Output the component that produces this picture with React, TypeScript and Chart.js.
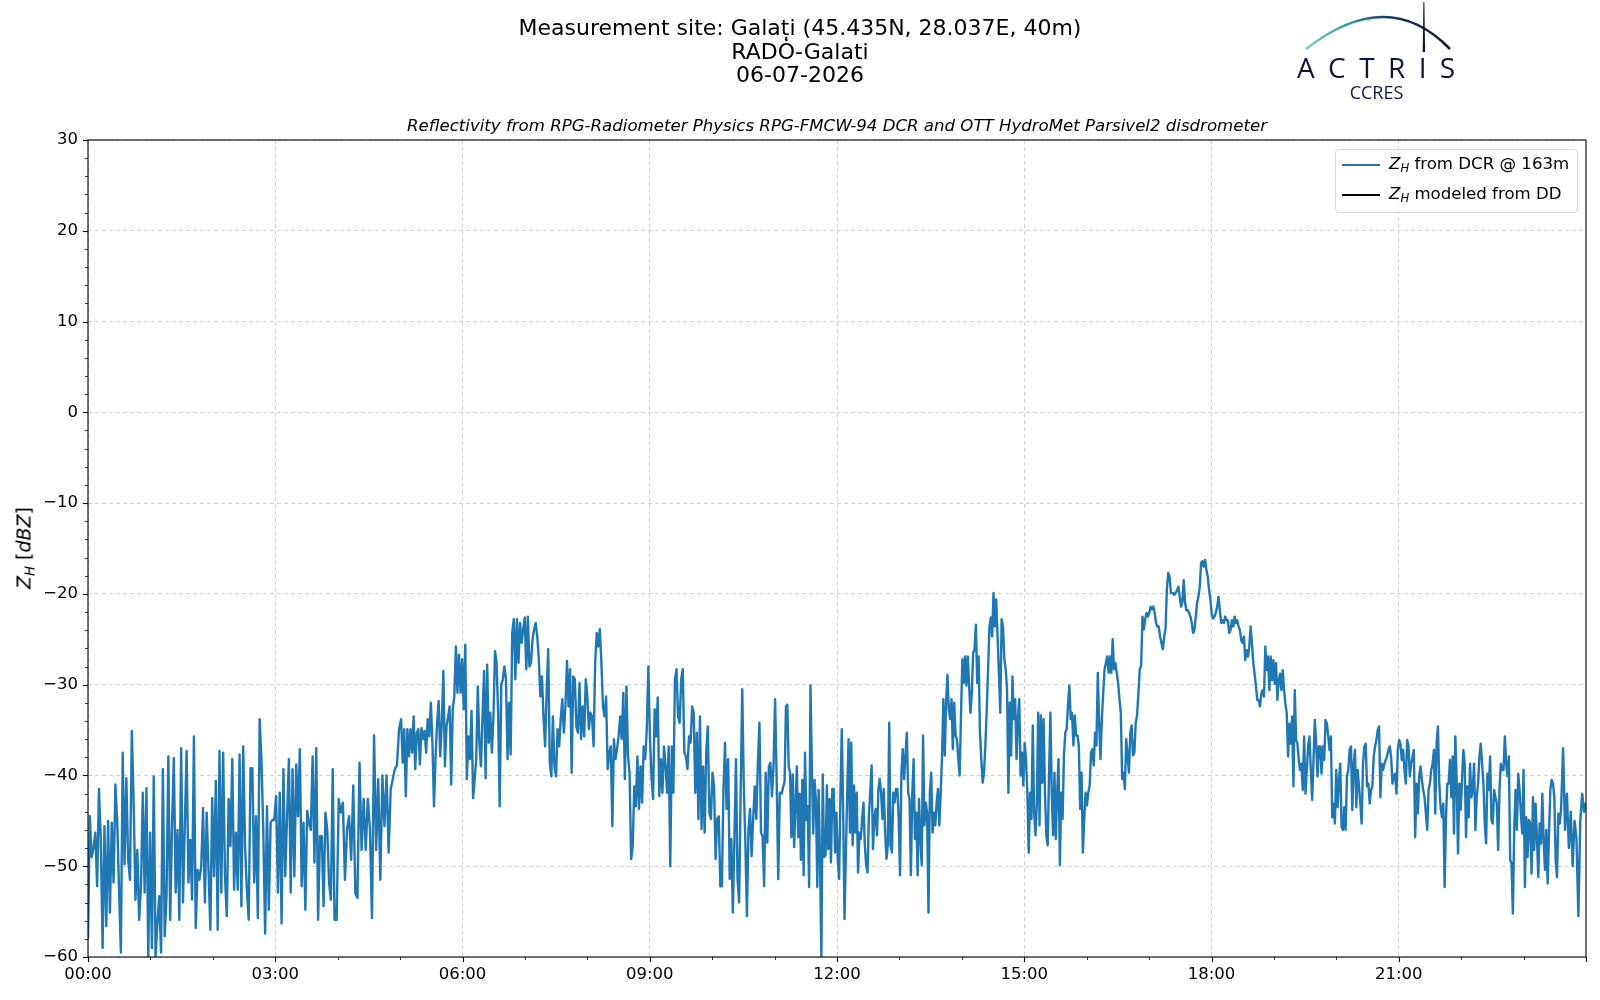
import React, { useEffect, useRef } from 'react';
import { Chart, registerables } from 'chart.js';

Chart.register(...registerables);

// Z_H from DCR @ 163m (dBZ)
const zhNight = [
    -58, -44.5, -49, -48, -46.3, -52.2, -41.5, -47.1, -59, -45.6,
    -56.6, -45, -55.1, -45.2, -51.8, -41, -45.2, -52.6, -59.5, -37.5,
    -49.8, -40.3, -49.3, -51.5, -35.1, -43, -53.7, -48.2, -55.9, -52.2,
    -41.9, -52.9, -41.4, -60, -46.3, -59, -40.1, -60, -56.3, -53.3,
    -59.5, -39.3, -57.7, -53.3, -37.9, -55.9, -45.6, -38.1, -52.9, -46,
    -55.9, -37, -54, -45.6, -37.3, -51.8, -47.1, -53.7, -35.7, -56.8,
    -50.4, -51.5, -50, -43.6, -54, -44.1, -50.4, -57, -42.5, -51.1,
    -40.6, -57, -37.3, -52.9, -37.5, -51.1, -55.5, -42.6, -47.8, -38.2,
    -52.6, -46.3, -52.6, -37.7, -54.4, -36.8, -47.8, -52.6, -55.9, -39.2,
    -39.2, -51.8, -44.5, -55.7, -33.8, -38.4, -46.3, -57.4, -43.4, -54.8,
    -45.2, -44.9, -44.9, -42.3, -52.9, -41.9, -56.3, -39.3, -51.1, -44.5,
    -38.2, -52.9, -39.3, -51.1, -38.8, -44.5, -37.1, -52.2, -45.2, -54.8,
    -43.9, -45.2, -46, -37.9, -49.6, -37, -55.9, -46.7, -46.7, -54.4,
    -44.1, -46, -51.8, -53.7, -39.3, -55.9,
];

const zhBeforeFive = [
    -55.9, -42.6, -44.1, -43.0, -51.5, -45.9, -44.5, -49.3, -41.1, -53.0,
    -53.5, -38.6, -48.2, -42.6, -48.2, -42.6, -45.9, -55.7, -35.6, -48.2,
    -40.4, -51.5, -40.0, -45.6, -40.0, -48.5, -41.5, -40.4, -39.3, -38.9,
    -34.9,
];

const zhMorning = [
    -33.8, -38.6, -34.9, -42.3, -34.9, -37.9, -34.9, -37.5, -33.5, -39.3,
    -35.3, -34.9, -38.8, -34.8, -36.0, -35.1, -37.5, -33.8, -35.7, -32.0,
    -36.4, -43.4, -37.9, -34.2, -31.8, -37.9, -34.2, -28.5, -39.0, -34.6,
    -33.5, -32.4, -41.0, -32.7, -31.3, -25.8, -30.9, -26.7, -30.9, -27.2,
    -32.7, -25.6, -40.4, -35.7, -38.2, -32.9, -42.5, -40.4, -38.2, -30.2,
    -36.4, -39.0, -33.5, -28.5, -40.3, -27.8, -36.4, -33.1, -37.5, -33.5,
    -26.3, -27.6, -33.1, -43.4, -30.0, -29.4, -28.0, -29.4, -38.2, -32.0,
    -37.7, -24.3, -22.8, -29.4, -22.8, -27.6, -23.2, -25.4, -23.9, -22.6,
    -28.3, -22.5, -28.0, -27.6, -25.0, -23.9, -23.2, -24.7, -27.2, -31.3,
    -29.1, -33.5, -36.8, -30.9, -26.1, -38.6, -40.1, -33.5, -39.0, -40.1,
    -34.9, -36.8, -33.8, -31.6, -35.3, -32.4, -27.4, -32.4, -28.3, -39.7,
    -29.1, -29.4, -34.6, -35.3, -29.8, -36.0, -32.4, -35.7, -29.4, -31.3,
    -34.9, -33.1, -33.5, -36.8, -27.6, -24.3, -25.8, -23.9, -27.6, -32.4,
    -33.5, -31.3, -39.3, -37.5, -36.8, -45.6, -36.0, -38.2, -37.1, -35.7,
    -33.5, -36.0, -30.9, -40.4, -30.2, -37.9, -39.7, -49.2, -47.8, -41.2,
    -43.4, -37.9, -43.7, -39.0, -43.0, -36.8, -38.2, -34.9, -28.0, -35.7,
    -40.1, -42.6, -32.7, -35.7, -31.4, -42.3, -38.2, -41.9, -36.8, -39.0,
    -41.9, -36.8, -50.0, -36.8, -41.9, -29.4, -28.3, -33.5, -34.2, -29.4,
    -28.3, -37.5, -37.9, -39.3, -35.7, -36.4, -32.4, -33.1, -41.9, -35.3,
    -44.8, -33.5, -45.9, -39.0, -46.3, -37.5, -34.6, -44.1, -44.8, -39.7,
    -41.2, -49.2, -44.8, -44.5, -52.2, -52.2, -41.5, -36.4, -43.7, -38.2,
    -51.4, -47.0, -55.1, -47.0, -38.2, -51.4, -54.0, -41.9, -30.5, -41.2,
    -47.4, -55.5, -45.9, -43.7, -48.9, -44.8, -41.2, -44.8, -38.6, -34.2,
    -46.3, -46.7, -52.2, -39.7, -47.4, -39.0, -38.6, -42.3, -39.0, -31.6,
    -40.4, -51.4, -41.9,
];

const zhBeforeNoon = [
    -42.0, -41.2, -40.7, -32.4, -32.2, -39.0, -39.7, -46.8, -39.9, -47.9,
    -43.4, -39.0, -46.8, -42.0, -49.3, -40.5, -51.0, -37.5, -44.9, -43.4,
    -52.3, -30.1, -39.0, -46.4, -40.5, -42.7, -52.3, -41.6, -49.3, -60,
    -39.9, -49.0,
];

const zhAfternoon = [
    -48.8, -41.1, -48.1, -42.6, -49.6, -41.5, -41.5, -48.5, -44.1, -49.2,
    -51.4, -41.9, -34.9, -44.1, -55.8, -48.5, -41.9, -36.0, -46.3, -36.4,
    -47.7, -41.1, -46.3, -41.9, -50.7, -46.3, -47.0, -44.8, -43.0, -47.7,
    -49.9, -50.7, -44.4, -41.9, -38.9, -48.1, -44.8, -43.7, -46.6, -41.5,
    -40.4, -41.9, -44.8, -41.5, -46.3, -49.2, -47.7, -34.2, -47.7, -48.5,
    -41.9, -43.0, -41.5, -41.5, -44.8, -51.0, -39.7, -37.1, -40.4, -37.8,
    -35.3, -41.9, -42.6, -51.0, -42.2, -38.2, -47.0, -44.1, -51.0, -42.6,
    -47.0, -49.9, -35.6, -45.5, -43.0, -44.1, -55.1, -41.9, -39.7, -46.3,
    -44.1, -45.5, -43.0, -41.5, -45.5, -41.9, -37.8, -31.6, -37.8, -32.0,
    -28.9, -32.7, -33.8, -31.6, -37.1, -32.0, -35.6, -36.0, -38.2, -40.0,
    -33.4, -27.2, -29.8, -26.9, -30.1, -26.9, -30.1, -33.1, -30.9, -26.5,
    -26.1, -23.4, -29.8, -26.9, -35.3, -38.2, -40.8, -39.7, -36.7, -32.7,
    -28.3, -23.6, -22.6, -24.7, -19.9, -23.6, -20.6, -24.7, -28.7, -33.1,
    -22.8, -23.6, -27.2, -28.3, -30.5, -41.9, -32.0, -37.8, -29.1, -33.8,
    -31.6, -38.2, -33.8, -31.6, -40.0, -37.5, -41.1, -36.4, -38.2, -41.9,
    -48.5, -41.9, -44.8, -34.5, -44.1, -46.6, -43.0, -33.1, -45.5, -33.4,
    -40.8, -33.8, -41.9, -46.6, -47.7, -40.0, -33.1, -41.9, -46.6, -39.7,
    -47.0, -41.9, -38.2, -49.9, -41.9, -44.8, -37.8, -35.3, -34.9, -32.3,
    -30.1, -33.8, -33.1, -36.7, -33.4, -35.6, -35.6, -36.7, -43.7, -39.7,
    -48.5, -44.8, -41.9, -43.3, -41.9, -41.1, -37.5, -37.1, -38.9, -35.3,
    -36.7, -28.7, -34.2, -38.2, -33.8, -30.9, -28.3, -27.6, -26.9, -28.7,
    -26.9, -28.7, -25.0, -28.3, -27.6, -28.7, -29.8, -31.6, -33.1, -40.4,
    -39.7, -41.5, -36.0, -37.8, -39.7, -35.3, -34.5, -37.8, -37.5, -34.2,
    -33.4, -30.9, -28.3, -27.9, -22.5, -23.9, -22.8, -22.1, -22.5, -22.1,
    -21.4, -21.7, -21.4, -22.1, -23.2, -23.6, -23.6, -24.7, -25.4, -26.1,
    -24.7, -23.9, -19.5, -17.7, -18.1, -19.9,
];

const zhEvening = [
    -19.9, -20.1, -19.9, -19.6, -19.2, -20.3, -21.4, -20.8, -18.5, -21.0,
    -21.8, -21.8, -22.1, -22.5, -23.2, -24.3, -24.0, -22.5, -21.0, -20.3,
    -19.2, -16.6, -16.4, -17.0, -16.25, -17.4, -18.1, -19.6, -20.7, -22.3,
    -22.7, -22.5, -22.1, -21.4, -20.3, -21.8, -23.2, -22.9, -23.2, -22.5,
    -22.9, -22.9, -24.3, -24.0, -22.9, -23.6, -22.5, -23.2, -22.9, -23.6,
    -24.0, -25.1, -25.4, -24.7, -27.3, -26.2, -26.9, -25.8, -23.6, -25.4,
    -27.6, -28.8, -30.2, -31.7, -31.7, -32.4, -31.0, -30.6, -31.3, -25.8,
    -28.4, -26.9, -30.6, -26.9, -29.5, -27.3, -29.9, -27.6, -31.7, -29.5,
    -28.8, -30.6, -28.4, -30.6, -32.1, -33.2, -37.9, -34.3, -36.5, -33.5,
    -41.2, -30.6, -36.1, -36.5, -38.3, -39.4, -38.7, -41.6, -35.7, -42.0,
    -39.4, -36.8, -35.7, -39.4, -42.7, -38.3, -33.9, -36.5, -40.1, -36.8,
    -36.8, -39.8, -36.8, -38.3, -33.9, -34.3, -35.7, -37.2, -35.7, -44.6,
    -43.1, -45.3, -39.4, -43.5, -40.5, -38.7, -45.7, -46.0, -43.5, -46.0,
    -40.1, -39.4, -37.2, -36.8, -43.8, -38.7, -37.2, -43.5, -39.4, -41.2,
    -43.1, -45.3, -38.7, -36.8, -36.5, -41.2, -40.9, -43.1, -41.6, -41.2,
    -37.9, -36.8, -36.1, -35.0, -34.6, -42.4, -38.7, -39.4, -38.7, -38.3,
    -37.9, -37.2, -36.8, -37.9, -40.9, -40.1, -39.8, -42.0, -37.2, -36.1,
    -36.5, -38.3, -37.2, -39.4, -40.9, -36.1, -36.8, -40.1, -38.7, -37.9,
    -37.2, -46.8, -40.9, -44.2, -40.1, -39.0, -40.5, -41.6, -42.4, -44.2,
    -46.0, -41.6, -40.9, -39.4, -38.7, -37.2, -44.2, -36.5, -34.6, -40.9,
    -43.5, -44.6, -43.1, -52.3, -44.6, -40.9, -40.9, -38.3, -42.4, -37.9,
    -46.4, -35.7, -40.5, -48.6, -40.9, -43.8, -40.5, -37.2, -38.7, -46.8,
    -41.2, -44.6, -38.7, -42.4, -41.6, -38.7, -46.0, -42.4, -40.9, -37.9,
    -36.5, -38.7, -40.9, -45.3, -47.5, -39.8, -41.6, -37.9, -44.9, -45.3,
    -41.6, -42.4, -43.1, -48.2, -41.6, -38.7, -39.4, -39.4, -35.7, -38.7,
    -40.1, -37.9, -49.3, -49.7, -55.2, -46.0, -41.6, -46.0, -39.8, -41.6,
    -44.2, -46.4, -39.4, -52.3, -44.6, -49.0, -44.9, -45.3, -50.8, -42.4,
    -48.2, -43.1, -46.8, -51.2, -45.3, -47.5, -42.0, -47.1, -50.4, -46.0,
    -51.9, -46.4, -41.6, -40.5, -40.9, -42.4, -49.3, -51.2, -44.2, -45.3,
    -43.8,
];

const zhLastMinutes = [-37, -46, -42, -48, -44, -50, -45, -47, -55.5, -45, -42, -44, -43];

// each stretch: first and last sample time, minutes after 00:00
const stretches = [
    { from: 0, to: 237, values: zhNight },
    { from: 239, to: 299, values: zhBeforeFive },
    { from: 301, to: 665, values: zhMorning },
    { from: 667, to: 707.6, values: zhBeforeNoon },
    { from: 709, to: 1041, values: zhAfternoon },
    { from: 1043, to: 1416, values: zhEvening },
    { from: 1418, to: 1440, values: zhLastMinutes },
];

// no disdrometer data this day
const zhModeledDD: { x: number; y: number }[] = [];

const hourLabels = ['00:00', '03:00', '06:00', '09:00', '12:00', '15:00', '18:00', '21:00'];

const FONT = '"DejaVu Sans", "Liberation Sans", sans-serif';

// matplotlib-like frame and minor ticks
const axesFrame = {
    id: 'axesFrame',
    afterDraw(chart: any) {
        const { ctx, chartArea: a, scales } = chart;
        const xs = scales.x;
        const ys = scales.y;
        ctx.save();
        ctx.strokeStyle = '#000';
        for (let m = 0; m <= 1440; m += 60) {
            const major = m % 180 === 0;
            const px = Math.round(xs.getPixelForValue(m)) + 0.5;
            ctx.lineWidth = major ? 1.1 : 0.8;
            ctx.beginPath();
            ctx.moveTo(px, a.bottom);
            ctx.lineTo(px, a.bottom + (major ? 5 : 3));
            ctx.stroke();
        }
        for (let v = -60; v <= 30; v += 2) {
            const major = v % 10 === 0;
            const py = Math.round(ys.getPixelForValue(v)) + 0.5;
            ctx.lineWidth = major ? 1.1 : 0.8;
            ctx.beginPath();
            ctx.moveTo(a.left, py);
            ctx.lineTo(a.left - (major ? 5 : 3), py);
            ctx.stroke();
        }
        ctx.lineWidth = 1.1;
        ctx.strokeRect(a.left, a.top, a.right - a.left, a.bottom - a.top);
        ctx.restore();
    },
};

const sub: React.CSSProperties = { fontSize: '70%', verticalAlign: '-0.3em', fontStyle: 'italic' };

const App: React.FC = () => {
    const canvasRef = useRef<HTMLCanvasElement | null>(null);

    useEffect(() => {
        document.body.style.margin = '0';
        const ctx = canvasRef.current?.getContext('2d');
        if (!ctx) return;

        const points: { x: number; y: number }[] = [];
        stretches.forEach((s) => {
            const n = s.values.length;
            s.values.forEach((v, i) => {
                points.push({ x: s.from + (i * (s.to - s.from)) / (n - 1), y: v });
            });
        });

        const chart = new Chart(ctx, {
            type: 'line',
            data: {
                datasets: [
                    {
                        label: 'Z_H from DCR @ 163m',
                        data: points,
                        borderColor: '#1f77b4',
                        borderWidth: 2.4,
                        borderJoinStyle: 'round',
                        pointRadius: 0,
                        fill: false,
                        tension: 0,
                    },
                    {
                        label: 'Z_H modeled from DD',
                        data: zhModeledDD,
                        borderColor: '#000',
                        borderWidth: 2,
                        pointRadius: 0,
                    },
                ],
            },
            options: {
                animation: false,
                responsive: false,
                layout: { padding: { top: 140, right: 14, bottom: 13, left: 0 } },
                plugins: { legend: { display: false }, tooltip: { enabled: false } },
                scales: {
                    x: {
                        type: 'linear',
                        min: 0,
                        max: 1440,
                        afterFit: (s: any) => {
                            s.height = 30;
                        },
                        afterBuildTicks: (s: any) => {
                            s.ticks = s.ticks.filter((t: any) => t.value < 1440);
                        },
                        ticks: {
                            stepSize: 180,
                            autoSkip: false,
                            maxRotation: 0,
                            padding: 8,
                            color: '#000',
                            font: { family: FONT, size: 16.5 },
                            callback: (v: any) => hourLabels[Math.round(Number(v) / 180)] ?? '',
                        },
                        grid: { color: '#d2d2d2', lineWidth: 1, drawTicks: false },
                        border: { display: false, dash: [4, 3] },
                    },
                    y: {
                        min: -60,
                        max: 30,
                        afterFit: (s: any) => {
                            s.width = 88;
                        },
                        ticks: {
                            stepSize: 10,
                            padding: 10,
                            color: '#000',
                            font: { family: FONT, size: 16.5 },
                            callback: (v: any) => (Number(v) < 0 ? '\u2212' + Math.abs(Number(v)) : String(v)),
                        },
                        grid: { color: '#d2d2d2', lineWidth: 1, drawTicks: false },
                        border: { display: false, dash: [4, 3] },
                    },
                },
            },
            plugins: [axesFrame],
        });

        return () => {
            chart.destroy();
        };
    }, []);

    return (
        <div style={{ position: 'relative', width: 1600, height: 1000, background: '#fff', fontFamily: FONT, color: '#000' }}>
            <canvas ref={canvasRef} width={1600} height={1000} style={{ position: 'absolute', left: 0, top: 0 }} />

            <div style={{ position: 'absolute', left: 0, top: 16, width: 1600, textAlign: 'center', fontSize: 22, lineHeight: '23.5px' }}>
                <div>Measurement site: Galați (45.435N, 28.037E, 40m)</div>
                <div>RADȮ-Galati</div>
                <div>06-07-2026</div>
            </div>

            <div style={{ position: 'absolute', left: 88, top: 116, width: 1498, textAlign: 'center', fontSize: 16.6, lineHeight: '20px', fontStyle: 'italic' }}>
                Reflectivity from RPG-Radiometer Physics RPG-FMCW-94 DCR and OTT HydroMet Parsivel2 disdrometer
            </div>

            <div style={{ position: 'absolute', left: 25, top: 548, transform: 'translate(-50%, -50%) rotate(-90deg)', whiteSpace: 'nowrap', fontSize: 19 }}>
                <i>Z</i><span style={sub}>H</span> [<i>dBZ</i>]
            </div>

            <div style={{ position: 'absolute', left: 1335, top: 149, width: 243, height: 64, boxSizing: 'border-box', border: '1px solid #d6d6d6', borderRadius: 4, background: 'rgba(255,255,255,0.8)', fontSize: 16.6 }}>
                {[
                    { color: '#1f77b4', text: 'from DCR @ 163m' },
                    { color: '#000', text: 'modeled from DD' },
                ].map((item, i) => (
                    <div key={i} style={{ position: 'absolute', left: 6, top: 5 + i * 30, height: 20, display: 'flex', alignItems: 'center', whiteSpace: 'nowrap' }}>
                        <span style={{ display: 'inline-block', width: 38, height: 2.4, background: item.color, marginRight: 9 }} />
                        <span>
                            <i>Z</i><span style={sub}>H</span> {item.text}
                        </span>
                    </div>
                ))}
            </div>

            <svg style={{ position: 'absolute', left: 0, top: 0 }} width={1600} height={110} viewBox="0 0 1600 110">
                <defs>
                    <linearGradient id="arcGrad" x1="1306" y1="0" x2="1452" y2="0" gradientUnits="userSpaceOnUse">
                        <stop offset="0" stopColor="#86d0cb" />
                        <stop offset="0.3" stopColor="#2f98a2" />
                        <stop offset="0.55" stopColor="#1a3e63" />
                        <stop offset="1" stopColor="#0e1335" />
                    </linearGradient>
                </defs>
                <path d="M1306 49 Q1388 -15 1450 49" fill="none" stroke="url(#arcGrad)" strokeWidth={2.6} />
                <polygon points="1423.4,2 1424.4,2 1425.1,52 1422.7,52" fill="#10163a" />
                <text x={1297} y={77.5} fontFamily='"Open Sans", "Noto Sans", sans-serif' fontSize={28} letterSpacing={13.4} fill="#10163a">
                    ACTRIS
                </text>
                <text x={1376.5} y={99} textAnchor="middle" fontFamily='"Open Sans", "Noto Sans", sans-serif' fontSize={18} fill="#10163a">
                    CCRES
                </text>
            </svg>
        </div>
    );
};

export default App;
